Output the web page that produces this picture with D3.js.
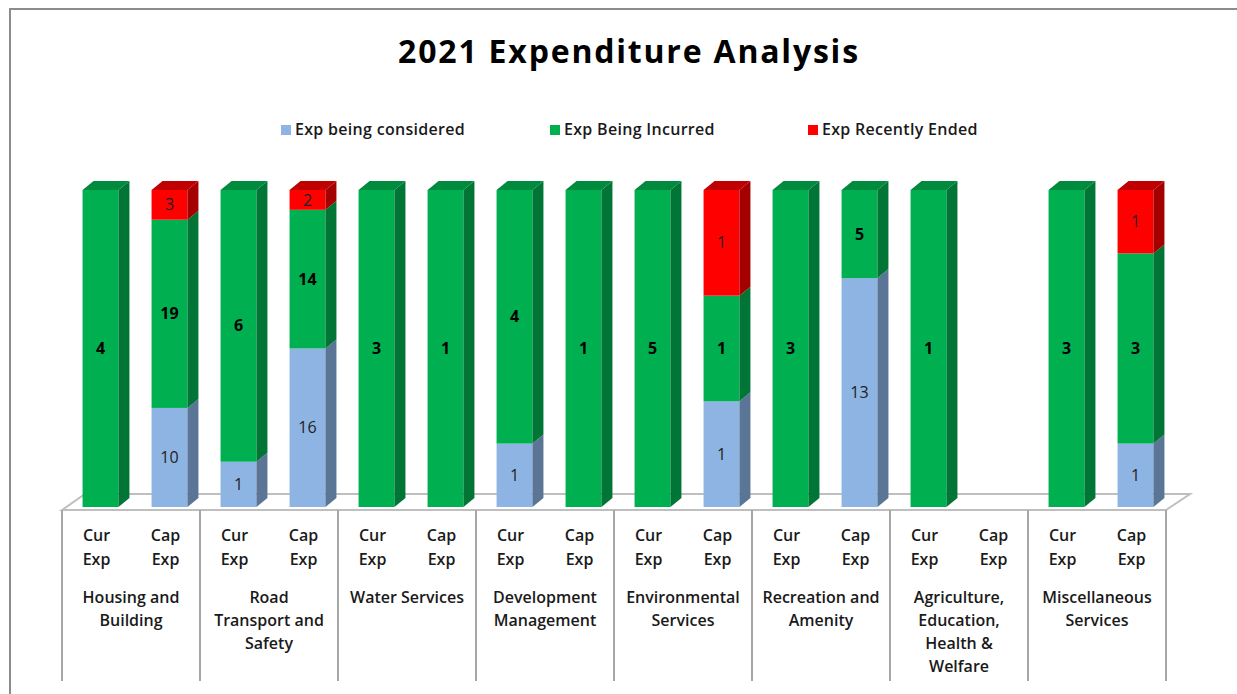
<!DOCTYPE html>
<html>
<head>
<meta charset="utf-8">
<script src="https://cdn.jsdelivr.net/npm/d3@7"></script>
<style>
  body { margin: 0; background: #fff; }
  svg { font-family: "Open Sans", Lato, sans-serif; }
</style>
</head>
<body>
<div class="chart"></div>
<script>
// Données du graphique
const categories = [
  'Housing and Building', 'Road Transport and Safety', 'Water Services',
  'Development Management', 'Environmental Services', 'Recreation and Amenity',
  'Agriculture, Education, Health & Welfare', 'Miscellaneous Services'
];
// Libellés (avec retours à la ligne)
const categoryLines = [
  ['Housing and', 'Building'], ['Road', 'Transport and', 'Safety'], ['Water Services'],
  ['Development', 'Management'], ['Environmental', 'Services'], ['Recreation and', 'Amenity'],
  ['Agriculture,', 'Education,', 'Health &', 'Welfare'], ['Miscellaneous', 'Services']
];
const expTypes = ['Cur', 'Cap'];
const expTypeLines = { Cur: ['Cur', 'Exp'], Cap: ['Cap', 'Exp'] };
const seriesNames = ['Exp being considered', 'Exp Being Incurred', 'Exp Recently Ended'];

// Valeurs par série, ordre: [Cur, Cap] pour chaque catégorie
const considered = [0, 10, 1, 16, 0, 0, 1, 0, 0, 1, 0, 13, 0, 0, 0, 1];
const incurred   = [4, 19, 6, 14, 3, 1, 4, 1, 5, 1, 3, 5, 1, 0, 3, 3];
const ended      = [0, 3, 0, 2, 0, 0, 0, 0, 0, 1, 0, 0, 0, 0, 0, 1];

// Paramètres de la visualisation
const width = 1237;
const height = 694;
const plot = { left: 62, right: 1166, top: 190, base: 507 };
const depth = { dx: 11, dy: 9 };
const fontSize = 16;
const colors = {
  front: ['#8db4e2', '#00b050', '#ff0000'],
  side:  ['#5a7595', '#007535', '#a50000'],
  top:   ['#6f90b5', '#008a3e', '#c00000']
};

const rows = [];
categories.forEach((c, i) => {
  expTypes.forEach((t, j) => {
    const k = i * 2 + j;
    rows.push({ category: c, type: t, considered: considered[k], incurred: incurred[k], ended: ended[k] });
  });
});

const svg = d3.select('.chart').append('svg')
  .attr('width', width)
  .attr('height', height);

// Cadre
svg.append('rect')
  .attr('x', 10).attr('y', 9)
  .attr('width', width + 20).attr('height', height + 20)
  .attr('fill', 'none').attr('stroke', '#8c8c8c').attr('stroke-width', 2);

// Titre
svg.append('text')
  .attr('x', 629).attr('y', 63)
  .attr('text-anchor', 'middle')
  .attr('font-size', 32).attr('font-weight', 'bold').attr('fill', '#000')
  .attr('letter-spacing', 1.8)
  .text('2021 Expenditure Analysis');

// Légende
const legendX = [281, 550, 808];
const legend = svg.append('g');
seriesNames.forEach((s, i) => {
  legend.append('rect')
    .attr('x', legendX[i]).attr('y', 125).attr('width', 10).attr('height', 10)
    .attr('fill', colors.front[i]);
  legend.append('text')
    .attr('x', legendX[i] + 14).attr('y', 135)
    .attr('font-size', fontSize).attr('font-weight', 600).attr('fill', '#1a1a1a')
    .attr('letter-spacing', 0.3)
    .text(s);
});

// Echelles
const x = d3.scaleBand().domain(categories).range([plot.left, plot.right]);
const xInner = d3.scaleBand().domain(expTypes).range([0, x.bandwidth()])
  .paddingInner(0.48).paddingOuter(0.24);
const y = d3.scaleLinear().domain([0, 1]).range([plot.base, plot.top]);

// Sol 3D
const floorFront = plot.base + 3;
const floorBack = floorFront - 16;
svg.append('path')
  .attr('d', `M${plot.left},${floorFront} L${plot.left + 23},${floorBack} L${plot.right + 24},${floorBack} L${plot.right},${floorFront} Z`)
  .attr('fill', '#fff').attr('stroke', '#bfbfbf').attr('stroke-width', 2);

// Empilement (100 %)
const stack = d3.stack()
  .keys(['considered', 'incurred', 'ended'])
  .offset(d3.stackOffsetExpand);
const series = stack(rows);

const bx = d => x(d.data.category) + xInner(d.data.type) + 4;
const bw = xInner.bandwidth();

const bars = svg.append('g');
series.forEach((s, si) => {
  const segs = s.filter(d => d[1] - d[0] > 0);
  const g = bars.append('g');
  // face avant
  g.selectAll('rect.front').data(segs).join('rect')
    .attr('class', 'front')
    .attr('x', bx).attr('y', d => y(d[1]))
    .attr('width', bw).attr('height', d => y(d[0]) - y(d[1]))
    .attr('fill', colors.front[si]);
  // face latérale
  g.selectAll('path.side').data(segs).join('path')
    .attr('class', 'side')
    .attr('d', d => {
      const x0 = bx(d) + bw, y0 = y(d[1]), y1 = y(d[0]);
      return `M${x0},${y0} L${x0 + depth.dx},${y0 - depth.dy} L${x0 + depth.dx},${y1 - depth.dy} L${x0},${y1} Z`;
    })
    .attr('fill', colors.side[si]);
});
// faces supérieures
const tops = rows.map((r, i) => {
  const idx = [2, 1, 0].find(si => series[si][i][1] - series[si][i][0] > 0);
  return idx === undefined ? null : { d: series[idx][i], si: idx };
}).filter(t => t);
bars.selectAll('path.top').data(tops).join('path')
  .attr('class', 'top')
  .attr('d', t => {
    const x0 = bx(t.d), y0 = y(t.d[1]);
    return `M${x0},${y0} L${x0 + depth.dx},${y0 - depth.dy} L${x0 + bw + depth.dx},${y0 - depth.dy} L${x0 + bw},${y0} Z`;
  })
  .attr('fill', t => colors.top[t.si]);

// Etiquettes de valeurs
series.forEach((s, si) => {
  bars.append('g').selectAll('text')
    .data(s.filter(d => d[1] - d[0] > 0))
    .join('text')
    .attr('x', d => bx(d) + bw / 2)
    .attr('y', d => (y(d[0]) + y(d[1])) / 2)
    .attr('dy', '0.35em')
    .attr('text-anchor', 'middle')
    .attr('font-size', fontSize)
    .attr('font-weight', si === 1 ? 'bold' : 'normal')
    .attr('fill', si === 1 ? '#000' : '#222')
    .text(d => d.data[s.key]);
});

// Axe catégoriel (tableau)
const axis = svg.append('g');
const dividers = categories.map(c => x(c)).concat([plot.right]);
axis.selectAll('line').data(dividers).join('line')
  .attr('x1', d => d).attr('x2', d => d)
  .attr('y1', floorFront).attr('y2', 681)
  .attr('stroke', '#a6a6a6').attr('stroke-width', 2);

categories.forEach((c, i) => {
  expTypes.forEach(t => {
    axis.append('text')
      .attr('x', x(c) + xInner(t) + bw / 2)
      .attr('y', 541)
      .attr('text-anchor', 'middle')
      .attr('font-size', fontSize).attr('font-weight', 600).attr('fill', '#1a1a1a')
      .selectAll('tspan').data(expTypeLines[t]).join('tspan')
      .attr('x', x(c) + xInner(t) + bw / 2)
      .attr('dy', (d, k) => k === 0 ? 0 : 24)
      .text(d => d);
  });
  axis.append('text')
    .attr('y', 603)
    .attr('text-anchor', 'middle')
    .attr('font-size', fontSize).attr('font-weight', 600).attr('fill', '#1a1a1a')
    .selectAll('tspan').data(categoryLines[i]).join('tspan')
    .attr('x', x(c) + x.bandwidth() / 2)
    .attr('dy', (d, k) => k === 0 ? 0 : 23)
    .text(d => d);
});
</script>
</body>
</html>
